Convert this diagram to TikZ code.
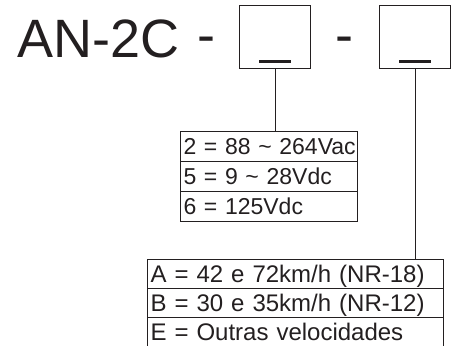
\documentclass[tikz,border=0pt]{standalone}
\usepackage{fontspec}
\setmainfont{Liberation Sans}
\definecolor{ink}{RGB}{35,31,32}
\tikzset{
  slotbox/.style={draw=ink, line width=1pt, minimum width=71pt, minimum height=63pt, inner sep=0pt, anchor=north west},
  rowbox/.style={draw=ink, line width=1pt, inner xsep=3pt, inner ysep=0pt, text height=16.8pt, text depth=0pt, align=left, anchor=north west, text=ink},
  bigtext/.style={inner sep=0pt, anchor=base, font=\fontsize{54pt}{60pt}\selectfont, text=ink}
}
\begin{document}
\begin{tikzpicture}[x=1pt,y=-1pt]
\useasboundingbox (0,0) rectangle (451,346);
% code
\node[bigtext, anchor=base west] (code) at (17,57) {AN-2C};
\node[bigtext] (dashA) at (206.5,53) {-};
\node[bigtext] (dashB) at (344.5,53) {-};
% slots
\node[slotbox] (slotA) at (239,5) {};
\node[slotbox] (slotB) at (379,5) {};
\fill[ink] (259,59.5) rectangle (291,63);
\fill[ink] (399,59.5) rectangle (431,63);
% supply options
\tikzset{supply/.style={rowbox, text width=171pt, minimum height=30pt, font=\fontsize{23pt}{26pt}\selectfont}}
\node[supply] (supA) at (180,131) {\mbox{2 = 88 \char`~\ 264Vac}};
\node[supply] (supB) at (180,161) {\mbox{5 = 9 \char`~\ 28Vdc}};
\node[supply] (supC) at (180,191) {6 = 125Vdc};
% speed options
\tikzset{speed/.style={rowbox, text width=290pt, minimum height=29pt, font=\fontsize{24pt}{26pt}\selectfont}}
\node[speed] (spdA) at (147,259) {\mbox{A = 42 e 72km/h (NR-18)}};
\node[speed] (spdB) at (147,288) {\mbox{B = 30 e 35km/h (NR-12)}};
\node[speed] (spdC) at (147,317) {E = Outras velocidades};
% leaders
\draw[ink, line width=1pt] (slotA.south) -- (slotA.south |- supA.north);
\draw[ink, line width=1pt] (slotB.south) -- (slotB.south |- spdA.north);
\end{tikzpicture}
\end{document}
